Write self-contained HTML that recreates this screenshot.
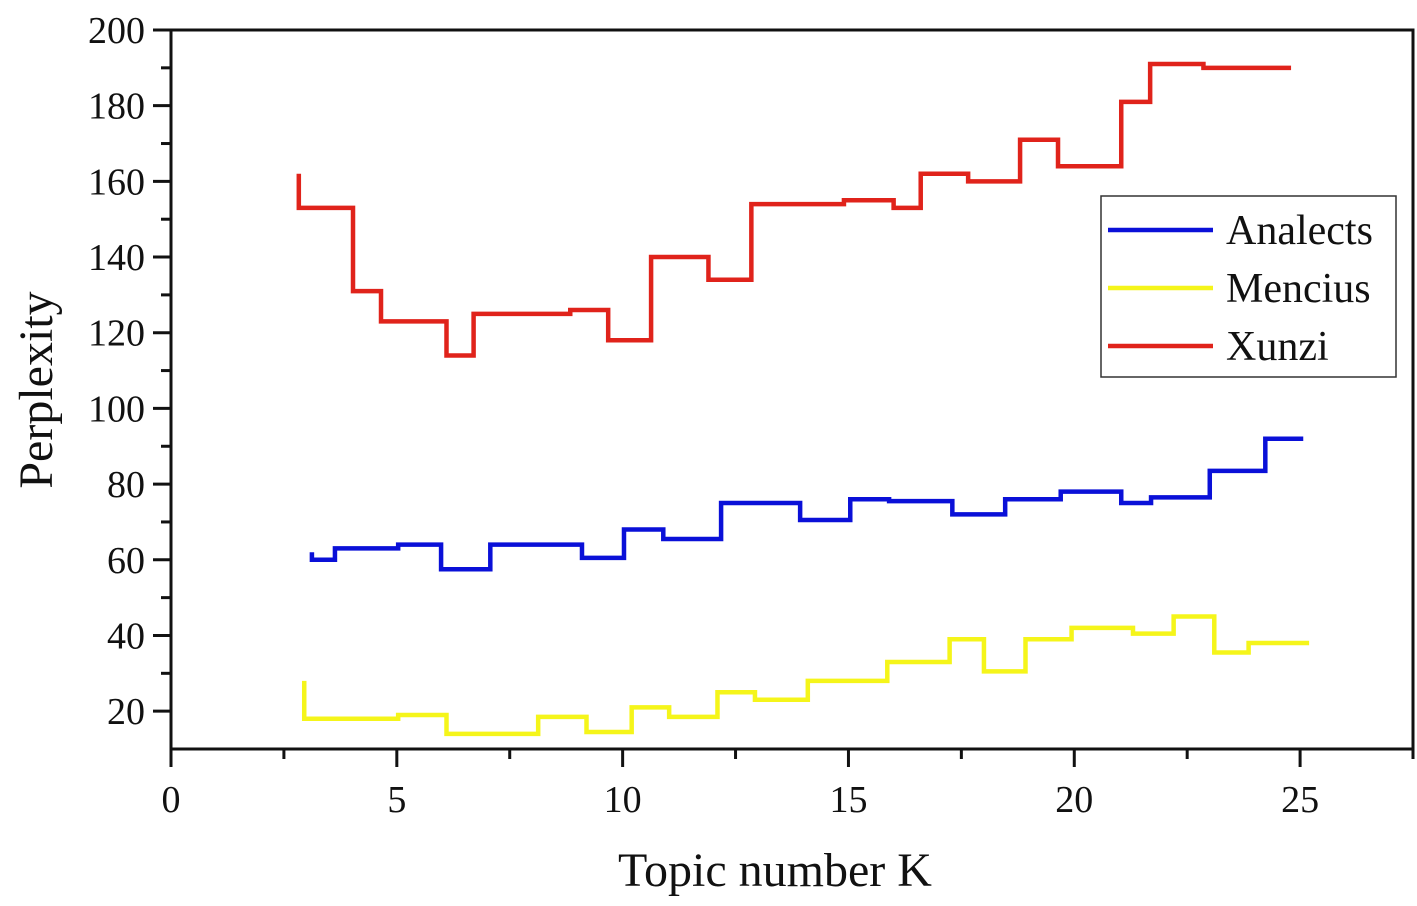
<!DOCTYPE html>
<html><head><meta charset="utf-8"><style>
body{margin:0;background:#fff}
svg text{font-family:"Liberation Serif",serif;fill:#111}
</style></head><body>
<svg id="chart" width="1417" height="901" xmlns="http://www.w3.org/2000/svg"></svg>
<script>
const xMin=0,xMax=27.5,yMin=10,yMax=200;
const xTicks=[0,5,10,15,20,25];
const yTicks=[20,40,60,80,100,120,140,160,180,200];
const seriesNames=["Analects","Mencius","Xunzi"];
const seriesColors=["#0a10d8","#f5f51a","#e0231b"];
const analectsX=[3.12,3.63,5.03,5.98,7.07,9.1,10.03,10.9,12.18,13.93,15.04,15.9,17.3,18.47,19.7,21.04,21.7,23.0,24.23,25.07];
const analectsY=[60,63,64,57.5,64,60.5,68,65.5,75,70.5,76,75.5,72,76,78,75,76.5,83.5,92];
const analectsStart=62;
const menciusX=[2.95,5.03,6.1,8.13,9.2,10.2,11.03,12.1,12.93,14.1,15.86,17.24,18.0,18.92,19.94,21.3,22.2,23.1,23.86,25.2];
const menciusY=[18,19,14,18.5,14.5,21,18.5,25,23,28,33,39,30.5,39,42,40.5,45,35.5,38];
const menciusStart=28;
const xunziX=[2.83,4.03,4.65,6.1,6.7,8.84,9.68,10.63,11.9,12.85,14.9,16.0,16.6,17.65,18.8,19.64,21.04,21.68,22.86,24.8];
const xunziY=[153,131,123,114,125,126,118,140,134,154,155,153,162,160,171,164,181,191,190];
const xunziStart=162;

const L=171,R=1413,T=30,B=749;
const sx=v=>L+(v-xMin)/(xMax-xMin)*(R-L);
const sy=v=>B-(v-yMin)/(yMax-yMin)*(B-T);
const svg=document.getElementById('chart');
const NS="http://www.w3.org/2000/svg";
function mk(tag,attrs){const e=document.createElementNS(NS,tag);for(const k in attrs)e.setAttribute(k,attrs[k]);svg.appendChild(e);return e;}

const fr=mk('rect',{x:L,y:T,width:R-L,height:B-T,fill:'none',stroke:'#111','stroke-width':3});



for(let v=0;v<=xMax;v+=2.5){
  const major=xTicks.includes(v);
  const t=mk('line',{x1:sx(v),x2:sx(v),y1:B,y2:B+(major?18:10),stroke:'#111','stroke-width':3});
  
  
}
xTicks.forEach(v=>{
  const t=mk('text',{x:sx(v),y:B+63,'font-size':38,'text-anchor':'middle'});t.textContent=v;
  
  
});
for(let v=20;v<=yMax;v+=10){
  const major=yTicks.includes(v);
  const t=mk('line',{x1:L,x2:L-(major?18:10),y1:sy(v),y2:sy(v),stroke:'#111','stroke-width':3});
  
  
}
yTicks.forEach(v=>{
  const t=mk('text',{x:L-26,y:sy(v)+13,'font-size':38,'text-anchor':'end'});t.textContent=v;
  
  
});
const xt=mk('text',{x:775,y:886,'font-size':48,'text-anchor':'middle'});xt.textContent='Topic number K';


const yt=mk('text',{x:0,y:0,'font-size':48,'text-anchor':'middle',transform:'translate(52,390) rotate(-90)'});yt.textContent='Perplexity';



function stepPath(xs,ys,start){
  let d=`M${sx(xs[0])},${sy(start)} L${sx(xs[0])},${sy(ys[0])}`;
  for(let i=0;i<ys.length;i++){
    d+=` L${sx(xs[i+1])},${sy(ys[i])}`;
    if(i+1<ys.length)d+=` L${sx(xs[i+1])},${sy(ys[i+1])}`;
  }
  return d;
}
const all=[[analectsX,analectsY,analectsStart],[menciusX,menciusY,menciusStart],[xunziX,xunziY,xunziStart]];
all.forEach((s,i)=>{
  const p=mk('path',{d:stepPath(s[0],s[1],s[2]),fill:'none',stroke:seriesColors[i],'stroke-width':4.5});
  
  
});

const lg=mk('rect',{x:1101,y:196,width:295,height:181,fill:'#fff',stroke:'#333','stroke-width':1.5});


seriesNames.forEach((n,i)=>{
  const y=230+i*58;
  const l=mk('line',{x1:1108,x2:1213,y1:y,y2:y,stroke:seriesColors[i],'stroke-width':4.5});
  
  
  const t=mk('text',{x:1226,y:y+14,'font-size':42});t.textContent=n;
  
  
});
</script>
</body></html>
